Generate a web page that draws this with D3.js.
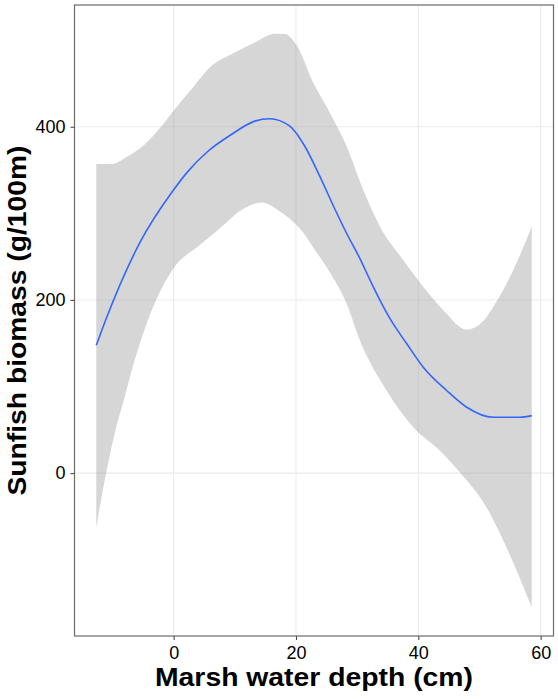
<!DOCTYPE html>
<html>
<head>
<meta charset="utf-8">
<script src="https://cdn.jsdelivr.net/npm/d3@7"></script>
<style>
  body { margin: 0; background: #fff; }
  text { font-family: "Liberation Sans", Arial, sans-serif; }
</style>
</head>
<body>
<div id="chart"></div>
<script>
// fitted smooth (blue line)
const fitDepth = [-12.65, -11.0, -5.29, -0.38, 2.34, 5.61, 9.44, 13.26, 15.71, 18.99, 21.44, 23.9, 26.35, 28.27, 30.44, 32.36, 33.72, 35.35, 38.09, 40.8, 44.63, 47.91, 52.26, 56.63, 58.54];
const fitBiomass = [147.6, 178.9, 269.3, 323.5, 348.5, 371.7, 391.1, 406.5, 409.3, 400.7, 377.5, 342.7, 305, 277, 248, 219.1, 199.8, 178.6, 149.6, 122.4, 95.4, 76.1, 64.5, 64.5, 66.4];

// upper confidence band
const upperDepth = [-12.65, -10.2, -7.48, -4.75, -2.01, 0.16, 2.9, 6.17, 9.44, 13.26, 16.53, 18.17, 20.08, 22.8, 25.53, 28.27, 30.98, 33.72, 37.53, 40.8, 44.08, 47.91, 51.18, 52.26, 55.53, 58.54];
const upperBiomass = [357, 357, 366, 379.5, 400.7, 420, 443.2, 470.3, 483.8, 497.4, 507.5, 507, 494.3, 451, 416.2, 377.5, 327.3, 284.8, 246.1, 215.2, 188.2, 165.8, 180.4, 192, 234.5, 284.8];

// lower confidence band
const lowerDepth = [-12.65, -11.29, -9.66, -8.02, -6.38, -4.21, 0.16, 3.98, 7.25, 11.62, 14.35, 17.63, 21.16, 23.08, 25.53, 28.27, 30.44, 34.81, 39.17, 43.54, 46.81, 51.18, 54.45, 58.54];
const lowerBiomass = [-63.1, -8.9, 45.2, 87.7, 130.2, 176.6, 238.4, 261.6, 280.9, 306.1, 312.6, 301, 278, 258, 232, 195.9, 153.4, 95.4, 52.9, 25.8, 0.7, -39.9, -86.3, -155];

const xTicks = [0, 20, 40, 60];
const yTicks = [0, 200, 400];

const W = 558, H = 699;
const margin = { top: 5, right: 4.5, bottom: 63, left: 74.5 };

const svg = d3.select("#chart").append("svg")
    .attr("width", W)
    .attr("height", H);

// ggplot-style 5% expansion
function expand(lo, hi) {
    const d = (hi - lo) * 0.05;
    return [lo - d, hi + d];
}
const xExt = d3.extent(fitDepth);
const yExt = [d3.min(lowerBiomass), d3.max(upperBiomass)];

const x = d3.scaleLinear()
    .domain(expand(xExt[0], xExt[1]))
    .range([margin.left, W - margin.right]);
const y = d3.scaleLinear()
    .domain(expand(yExt[0], yExt[1]))
    .range([H - margin.bottom, margin.top]);

// grid
svg.append("g").selectAll("line.gx")
    .data(xTicks)
    .join("line")
    .attr("x1", d => x(d)).attr("x2", d => x(d))
    .attr("y1", margin.top).attr("y2", H - margin.bottom)
    .attr("stroke", "#ebebeb").attr("stroke-width", 1.07);
svg.append("g").selectAll("line.gy")
    .data(yTicks)
    .join("line")
    .attr("y1", d => y(d)).attr("y2", d => y(d))
    .attr("x1", margin.left).attr("x2", W - margin.right)
    .attr("stroke", "#ebebeb").attr("stroke-width", 1.07);

// ribbon
const lineGen = d3.line()
    .x(d => x(d[0]))
    .y(d => y(d[1]))
    .curve(d3.curveMonotoneX);
const upperPts = upperDepth.map((d, i) => [d, upperBiomass[i]]);
const lowerPts = lowerDepth.map((d, i) => [d, lowerBiomass[i]]).reverse();
const lowerPath = d3.line()
    .x(d => x(d[0]))
    .y(d => y(d[1]))
    .curve(d3.curveMonotoneX)(lowerPts);
svg.append("path")
    .attr("d", lineGen(upperPts) + "L" + lowerPath.slice(1) + "Z")
    .attr("fill", "#999999")
    .attr("fill-opacity", 0.4);

// fitted line
svg.append("path")
    .datum(fitDepth.map((d, i) => [d, fitBiomass[i]]))
    .attr("d", lineGen)
    .attr("fill", "none")
    .attr("stroke", "#3366FF")
    .attr("stroke-width", 1.6);

// panel border
svg.append("rect")
    .attr("x", margin.left).attr("y", margin.top)
    .attr("width", W - margin.left - margin.right)
    .attr("height", H - margin.top - margin.bottom)
    .attr("fill", "none")
    .attr("stroke", "#6b6b6b")
    .attr("stroke-width", 1.2);

// axes
const xAxis = svg.append("g")
    .attr("transform", `translate(0,${H - margin.bottom})`)
    .call(d3.axisBottom(x).tickValues(xTicks).tickSize(4).tickPadding(6));
const yAxis = svg.append("g")
    .attr("transform", `translate(${margin.left},0)`)
    .call(d3.axisLeft(y).tickValues(yTicks).tickSize(4).tickPadding(5));
[xAxis, yAxis].forEach(g => {
    g.select(".domain").remove();
    g.selectAll(".tick line").attr("stroke", "#4d4d4d").attr("stroke-width", 1.1);
    g.selectAll(".tick text")
        .attr("fill", "#000")
        .style("font-size", "18px")
        .style("font-family", "'Liberation Sans', Arial, sans-serif");
});

// axis titles
svg.append("text")
    .attr("x", (margin.left + W - margin.right) / 2)
    .attr("y", 686)
    .attr("text-anchor", "middle")
    .attr("textLength", 318)
    .attr("lengthAdjust", "spacingAndGlyphs")
    .style("font-size", "26px")
    .style("font-weight", "bold")
    .text("Marsh water depth (cm)");

svg.append("text")
    .attr("transform", `translate(26,${(margin.top + H - margin.bottom) / 2}) rotate(-90)`)
    .attr("text-anchor", "middle")
    .attr("textLength", 350)
    .attr("lengthAdjust", "spacingAndGlyphs")
    .style("font-size", "26px")
    .style("font-weight", "bold")
    .text("Sunfish biomass (g/100m)");
</script>
</body>
</html>
